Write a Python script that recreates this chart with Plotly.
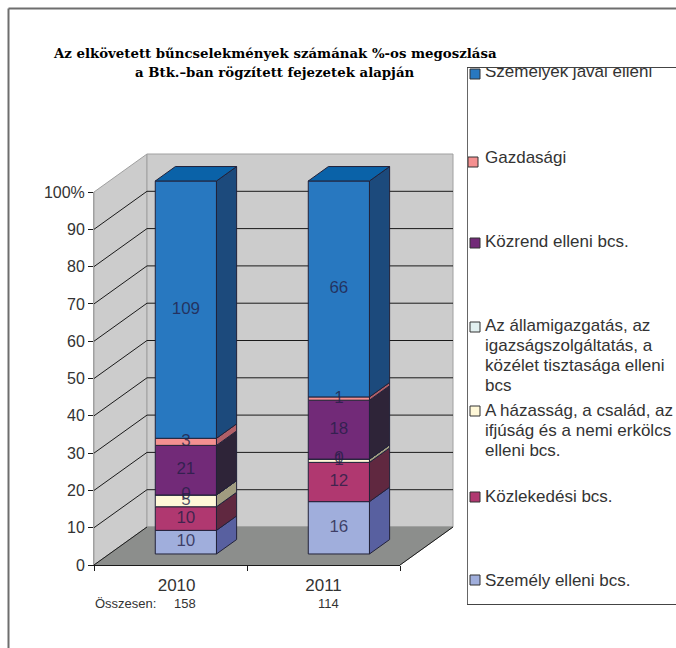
import plotly.graph_objects as go

# ---------- data ----------
years = ["2010", "2011"]
series_names = [
    "Személy elleni bcs.",
    "Közlekedési bcs.",
    "A házasság, a család, az|ifjúság és a nemi erkölcs|elleni bcs.",
    "Az államigazgatás, az|igazságszolgáltatás, a|közélet tisztasága elleni|bcs",
    "Közrend elleni bcs.",
    "Gazdasági",
    "Személyek javai elleni",
]
szemely = [10, 16]
kozlekedesi = [10, 12]
hazassag = [5, 1]
allamigazgatas = [0, 0]
kozrend = [21, 18]
gazdasagi = [3, 1]
javak = [109, 66]
series_values = [szemely, kozlekedesi, hazassag, allamigazgatas, kozrend, gazdasagi, javak]
y_ticks = [0, 10, 20, 30, 40, 50, 60, 70, 80, 90, 100]
y_ticktext = ["0", "10", "20", "30", "40", "50", "60", "70", "80", "90", "100%"]

# ---------- styles ----------
front_colors = ["#A0AEDC", "#B03870", "#FFF8D8", "#E2F0F0", "#722A78", "#F49090", "#2878C0"]
side_colors = ["#5860A0", "#602840", "#A09C80", "#A8B0B0", "#2E2438", "#B06068", "#1C4A7C"]
top_color = "#0A62A8"
edge = "#22223A"
label_color = "rgba(35,30,70,0.78)"
tick_color = "#333333"
FONT = "Liberation Sans"

W, H = 676, 648
AX_L, AX_R, AX_B, AX_T = 94, 400, 565, 192      # front plane in pixels
CAT_PX = (AX_R - AX_L) / 2
PCT_PX = (AX_B - AX_T) / 100
WALL_DX = 53 / CAT_PX                            # full depth, in x units
WALL_DY = 38 / PCT_PX                            # full depth, in y units
BAR_D0, BAR_D1 = 0.29, 0.67                      # bar front / back depth
HALF = 0.2


def px(xp):
    return xp / W


def py(yp):
    return 1 - yp / H


def proj(cat, pct, d):
    return cat + WALL_DX * d, pct + WALL_DY * d


def poly(points):
    return "M" + " L".join(f"{x},{y}" for x, y in points) + " Z"


totals = [sum(s[i] for s in series_values) for i in range(len(years))]
fig = go.Figure()

# ---------- walls and grid (shapes below the traces) ----------
shapes = []


def wall(points, fill, line="#A0A0A0"):
    shapes.append(dict(type="path", xref="x", yref="y", layer="below", path=poly(points),
                       fillcolor=fill, line=dict(color=line, width=1)))


wall([proj(-.5, 0, 0), proj(-.5, 0, 1), proj(-.5, 100, 1), proj(-.5, 100, 0)], "#CCCCCC")
wall([proj(-.5, 0, 1), proj(1.5, 0, 1), proj(1.5, 100, 1), proj(-.5, 100, 1)], "#CCCCCC")
wall([proj(-.5, 0, 0), proj(1.5, 0, 0), proj(1.5, 0, 1), proj(-.5, 0, 1)], "#8C8E8C", "#8C8E8C")
for t in y_ticks[:-1]:
    a, b, c = proj(-.5, t, 0), proj(-.5, t, 1), proj(1.5, t, 1)
    for p, q in ((a, b), (b, c)):
        if t == 0 and p == b:
            continue
        shapes.append(dict(type="line", xref="x", yref="y", layer="below", x0=p[0], y0=p[1],
                           x1=q[0], y1=q[1], line=dict(color="#1A1A1A", width=1)))
a, b = proj(1.5, 0, 0), proj(1.5, 0, 1)
shapes.append(dict(type="line", xref="x", yref="y", layer="below", x0=a[0], y0=a[1], x1=b[0], y1=b[1],
                   line=dict(color="#1A1A1A", width=1)))

# ---------- outer frame ----------
for x0, y0, x1, y1 in [(8.5, 8.5, 676, 8.5), (8.5, 8.5, 8.5, 648)]:
    shapes.append(dict(type="line", xref="paper", yref="paper", x0=px(x0), y0=py(y0), x1=px(x1), y1=py(y1),
                       line=dict(color="#6E6E6E", width=2)))

# ---------- stacked bars ----------
bases = [0.0] * len(years)
label_x, label_y, label_t = [], [], []
side_traces = []
for name, vals, fc, sc in zip(series_names, series_values, front_colors, side_colors):
    pct = [100 * v / t for v, t in zip(vals, totals)]
    fx = [proj(i, 0, BAR_D0)[0] for i in range(len(years))]
    fb = [proj(0, b, BAR_D0)[1] for b in bases]
    fig.add_trace(go.Bar(x=fx, y=pct, base=fb, width=2 * HALF, showlegend=False,
                         marker=dict(color=fc, line=dict(color=edge, width=1)), hoverinfo="skip"))
    for i in range(len(years)):
        lo, hi = bases[i], bases[i] + pct[i]
        pts = [proj(i + HALF, lo, BAR_D0), proj(i + HALF, lo, BAR_D1),
               proj(i + HALF, hi, BAR_D1), proj(i + HALF, hi, BAR_D0), proj(i + HALF, lo, BAR_D0)]
        side_traces.append(go.Scatter(x=[p[0] for p in pts], y=[p[1] for p in pts], mode="lines", fill="toself",
                                      fillcolor=sc, line=dict(color=edge, width=1),
                                      showlegend=False, hoverinfo="skip"))
        lx, ly = proj(i, (lo + hi) / 2, BAR_D0)
        label_x.append(lx)
        label_y.append(ly)
        label_t.append(str(vals[i]))
        bases[i] = hi
for s in side_traces:
    fig.add_trace(s)
for i in range(len(years)):
    pts = [proj(i - HALF, 100, BAR_D0), proj(i + HALF, 100, BAR_D0), proj(i + HALF, 100, BAR_D1),
           proj(i - HALF, 100, BAR_D1), proj(i - HALF, 100, BAR_D0)]
    fig.add_trace(go.Scatter(x=[p[0] for p in pts], y=[p[1] for p in pts], mode="lines", fill="toself",
                             fillcolor=top_color, line=dict(color=edge, width=1),
                             showlegend=False, hoverinfo="skip"))
fig.add_trace(go.Scatter(x=label_x, y=label_y, text=label_t, mode="text", showlegend=False, hoverinfo="skip",
                         textposition="middle center", textfont=dict(family=FONT, size=17, color=label_color)))

# ---------- visible axes on the front plane ----------
fig.add_trace(go.Scatter(x=[0], y=[0], xaxis="x2", yaxis="y2", mode="markers", marker=dict(opacity=0),
                         showlegend=False, hoverinfo="skip"))

# ---------- legend panel ----------
LEG_L, LEG_T, LEG_B = 468, 68, 604
LEG_LINE = 20
leg_square_y = [580, 497, 411, 327, 243, 162, 74]
leg_square_x = [475, 475, 475, 475, 475, 473, 475]
leg_first_line_y = [582, 498, 412, 327, 243, 159, 73]
fig.add_trace(go.Scatter(x=leg_square_x, y=leg_square_y, xaxis="x3", yaxis="y3", mode="markers", showlegend=False,
                         hoverinfo="skip", marker=dict(symbol="square", size=10, color=front_colors,
                                                       line=dict(color="#333333", width=1))))
leg_x, leg_y, leg_t = [], [], []
for name, y0 in zip(series_names, leg_first_line_y):
    for k, line in enumerate(name.split("|")):
        leg_x.append(485)
        leg_y.append(y0 + k * LEG_LINE)
        leg_t.append(line)
fig.add_trace(go.Scatter(x=leg_x, y=leg_y, xaxis="x3", yaxis="y3", mode="text",
                         text=leg_t, textposition="middle right", showlegend=False, hoverinfo="skip",
                         textfont=dict(family=FONT, size=17, color=tick_color)))

# ---------- annotations ----------
ann = [
    dict(text="<b>Az elkövetett bűncselekmények számának %-os megoszlása</b>", x=px(275), y=py(53)),
    dict(text="<b>a Btk.–ban rögzített fejezetek alapján</b>", x=px(275), y=py(72)),
]
annotations = [dict(a, xref="paper", yref="paper", showarrow=False, xanchor="center", yanchor="middle",
                    font=dict(family="DejaVu Serif", size=13.3, color="#000000")) for a in ann]
small = dict(xref="paper", yref="paper", showarrow=False, yanchor="middle",
             font=dict(family=FONT, size=13, color=tick_color))
annotations.append(dict(small, text="Összesen:", x=px(93), y=py(603), xanchor="left"))
annotations.append(dict(small, text=str(totals[0]), x=px(185), y=py(603), xanchor="center"))
annotations.append(dict(small, text=str(totals[1]), x=px(328), y=py(603), xanchor="center"))

fig.update_layout(
    width=W, height=H, margin=dict(l=0, r=0, t=0, b=0, pad=0), autosize=False,
    paper_bgcolor="white", plot_bgcolor="rgba(0,0,0,0)", barmode="overlay", showlegend=False,
    shapes=shapes, annotations=annotations,
    xaxis=dict(domain=[0, 1], range=[-AX_L / CAT_PX - .5, (W - AX_L) / CAT_PX - .5], visible=False, fixedrange=True),
    yaxis=dict(domain=[0, 1], range=[(AX_B - H) / PCT_PX, AX_B / PCT_PX], visible=False, fixedrange=True),
    xaxis2=dict(domain=[px(AX_L), px(AX_R)], range=[-.5, 1.5], anchor="y2", showgrid=False, zeroline=False,
                tickmode="array", tickvals=[0.04, 1.0], ticktext=years, ticks="", showline=True,
                linecolor="#1A1A1A", linewidth=1, ticklabelstandoff=5,
                tickfont=dict(family=FONT, size=17, color=tick_color),
                minor=dict(tickmode="array", tickvals=[-.5, .5, 1.5], ticks="outside", ticklen=5,
                           tickcolor="#1A1A1A", tickwidth=1, showgrid=False)),
    yaxis2=dict(domain=[py(AX_B), py(AX_T)], range=[0, 100], anchor="x2", showgrid=False, zeroline=False,
                tickmode="array", tickvals=y_ticks, ticktext=y_ticktext, ticks="outside", ticklen=5,
                tickcolor="#1A1A1A", tickwidth=1, showline=True, linecolor="#A0A0A0", linewidth=1,
                tickfont=dict(family=FONT, size=16, color=tick_color)),
    xaxis3=dict(domain=[px(LEG_L), 1], range=[LEG_L, W], anchor="y3", showgrid=False, zeroline=False,
                showticklabels=False, ticks="", showline=True, linecolor="#444444", linewidth=1, mirror=True),
    yaxis3=dict(domain=[py(LEG_B), py(LEG_T)], range=[LEG_B, LEG_T], anchor="x3", showgrid=False, zeroline=False,
                showticklabels=False, ticks="", showline=True, linecolor="#666666", linewidth=1),
)
fig.update_xaxes(automargin=False)
fig.update_yaxes(automargin=False)

fig.write_html("out.html", default_width=f"{W}px", default_height=f"{H}px",
               config={"displayModeBar": False, "responsive": False},
               post_script="document.body.style.margin='0';")
